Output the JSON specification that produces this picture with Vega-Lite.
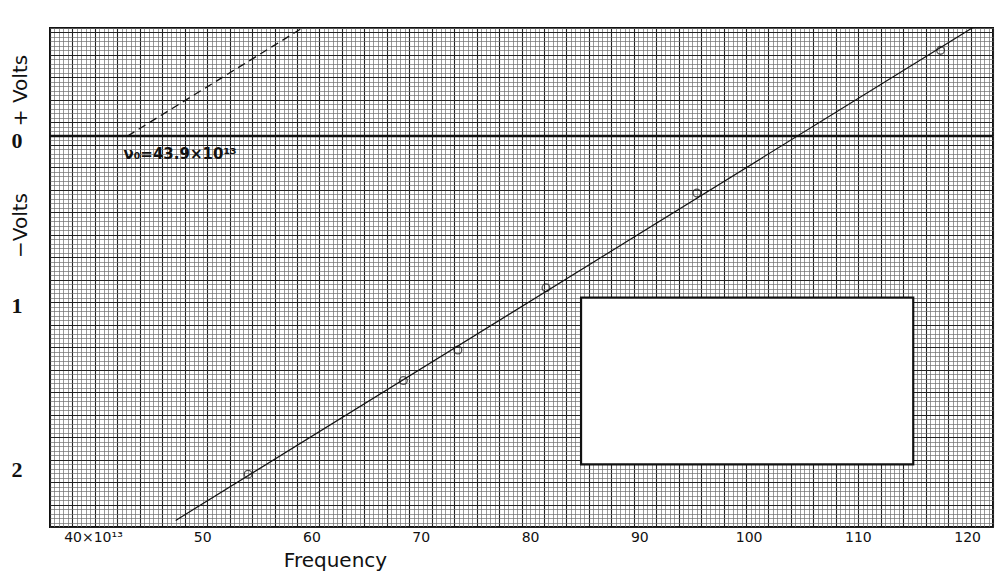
{
  "$schema": "https://vega.github.io/schema/vega-lite/v6.json",
  "width": 943,
  "height": 499,
  "autosize": {"type": "none"},
  "padding": {"left": 50, "top": 28, "right": 15, "bottom": 51},
  "background": "white",
  "config": {"view": {"stroke": "#111", "strokeWidth": 2}, "font": "DejaVu Sans"},
  "datasets": {
    "points": [
      {"f": 54.93, "v": -2.0497},
      {"f": 69.14, "v": -1.4824},
      {"f": 74.13, "v": -1.2973},
      {"f": 82.19, "v": -0.9202},
      {"f": 96.0, "v": -0.3451},
      {"f": 118.3, "v": 0.5194}
    ],
    "fit": [{"f": 48.3, "v": -2.33}, {"f": 121.8, "v": 0.68}],
    "extrap": [{"f": 43.9, "v": 0}, {"f": 60.5, "v": 0.68}],
    "blank": [{"f1": 85.4, "f2": 115.8, "v1": -0.98, "v2": -1.99}],
    "zero": [{"v": 0}],
    "note": [{"f": 43.9, "v": 0, "label": "ν₀=43.9×10¹³"}],
    "paper": [{"col": 0, "row": 0}]
  },
  "resolve": {
    "scale": {"x": "independent", "y": "independent"},
    "axis": {"x": "independent", "y": "independent"}
  },
  "layer": [
    {
      "data": {"name": "paper"},
      "mark": {"type": "point", "opacity": 0},
      "encoding": {
        "x": {"field": "col", "type": "quantitative",
          "scale": {"domain": [0, 210], "nice": false, "zero": false},
          "axis": {"orient": "top", "grid": true, "gridColor": "#6e6e6e", "gridWidth": 0.7, "tickCount": 210,
            "labels": false, "ticks": false, "domain": false, "title": null}},
        "y": {"field": "row", "type": "quantitative",
          "scale": {"domain": [0, 111], "nice": false, "zero": false},
          "axis": {"orient": "left", "grid": true, "gridColor": "#6e6e6e", "gridWidth": 0.7, "tickCount": 111,
            "labels": false, "ticks": false, "domain": false,
            "title": "+ Volts", "titleX": -30, "titleY": 62, "titleAngle": 270, "titleAlign": "center",
            "titleBaseline": "middle", "titleFontSize": 20, "titleFontWeight": "normal", "titleColor": "#111"}}
      }
    },
    {
      "data": {"name": "paper"},
      "mark": {"type": "point", "opacity": 0},
      "encoding": {
        "x": {"field": "col", "type": "quantitative",
          "scale": {"domain": [0, 210], "nice": false, "zero": false},
          "axis": {"orient": "top", "grid": true, "gridColor": "#222", "gridWidth": 1.1, "tickCount": 42,
            "labels": false, "ticks": false, "domain": false, "title": null}},
        "y": {"field": "row", "type": "quantitative",
          "scale": {"domain": [0, 111], "nice": false, "zero": false},
          "axis": {"orient": "right", "grid": true, "gridColor": "#222", "gridWidth": 1.1, "tickCount": 22,
            "labels": false, "ticks": false, "domain": false, "title": null}}
      }
    },
    {
      "layer": [
        {
          "data": {"name": "blank"},
          "mark": {"type": "rect", "fill": "white", "stroke": "#111", "strokeWidth": 2.2},
          "encoding": {
            "x": {"field": "f1", "type": "quantitative", "title": "Frequency", "scale": {"domain": [36.8, 123.1], "nice": false, "zero": false}},
            "x2": {"field": "f2"},
            "y": {"field": "v1", "type": "quantitative", "title": "−Volts", "scale": {"domain": [-2.37, 0.655], "nice": false, "zero": false}},
            "y2": {"field": "v2"}
          }
        },
        {
          "data": {"name": "zero"},
          "mark": {"type": "rule", "stroke": "#111", "strokeWidth": 2.6},
          "encoding": {
            "y": {"field": "v", "type": "quantitative", "title": "−Volts"}
          }
        },
        {
          "data": {"name": "extrap"},
          "mark": {"type": "line", "stroke": "#111", "strokeWidth": 1.3, "strokeDash": [8, 5], "clip": true},
          "encoding": {
            "x": {"field": "f", "type": "quantitative", "title": "Frequency"},
            "y": {"field": "v", "type": "quantitative", "title": "−Volts"}
          }
        },
        {
          "data": {"name": "fit"},
          "mark": {"type": "line", "stroke": "#111", "strokeWidth": 1.2, "clip": true},
          "encoding": {
            "x": {"field": "f", "type": "quantitative", "title": "Frequency"},
            "y": {"field": "v", "type": "quantitative", "title": "−Volts"}
          }
        },
        {
          "data": {"name": "points"},
          "mark": {"type": "point", "shape": "circle", "filled": false, "size": 60, "stroke": "#111", "strokeWidth": 1.3},
          "encoding": {
            "x": {"field": "f", "type": "quantitative", "title": "Frequency",
              "scale": {"domain": [36.8, 123.1], "nice": false, "zero": false},
              "axis": {"orient": "bottom", "values": [40, 50, 60, 70, 80, 90, 100, 110, 120],
                "labelExpr": "datum.value == 40 ? '40×10¹³' : datum.label",
                "labelOffset": 8, "labelPadding": 3, "labelFontSize": 14, "labelColor": "#111",
                "ticks": false, "domain": false, "grid": false,
                "titleX": 285, "titleY": 33, "titleAlign": "center", "titleBaseline": "middle",
                "titleFontSize": 20, "titleFontWeight": "normal", "titleColor": "#111"}},
            "y": {"field": "v", "type": "quantitative", "title": "−Volts",
              "scale": {"domain": [-2.37, 0.655], "nice": false, "zero": false},
              "axis": {"orient": "left", "values": [0, -1, -2],
                "labelExpr": "format(abs(datum.value), 'd')",
                "labelOffset": 4, "labelPadding": 28, "labelFontSize": 22, "labelFont": "Liberation Serif",
                "labelFontWeight": "bold", "labelColor": "#111",
                "ticks": false, "domain": false, "grid": false,
                "titleX": -30, "titleY": 197, "titleAngle": 270, "titleAlign": "center", "titleBaseline": "middle",
                "titleFontSize": 20, "titleFontWeight": "normal", "titleColor": "#111"}}
          }
        },
        {
          "data": {"name": "note"},
          "mark": {"type": "text", "align": "left", "baseline": "middle", "dx": -4, "dy": 18, "fontSize": 15, "fontWeight": "bold", "color": "#111"},
          "encoding": {
            "x": {"field": "f", "type": "quantitative", "title": "Frequency"},
            "y": {"field": "v", "type": "quantitative", "title": "−Volts"},
            "text": {"field": "label"}
          }
        }
      ]
    }
  ]
}
